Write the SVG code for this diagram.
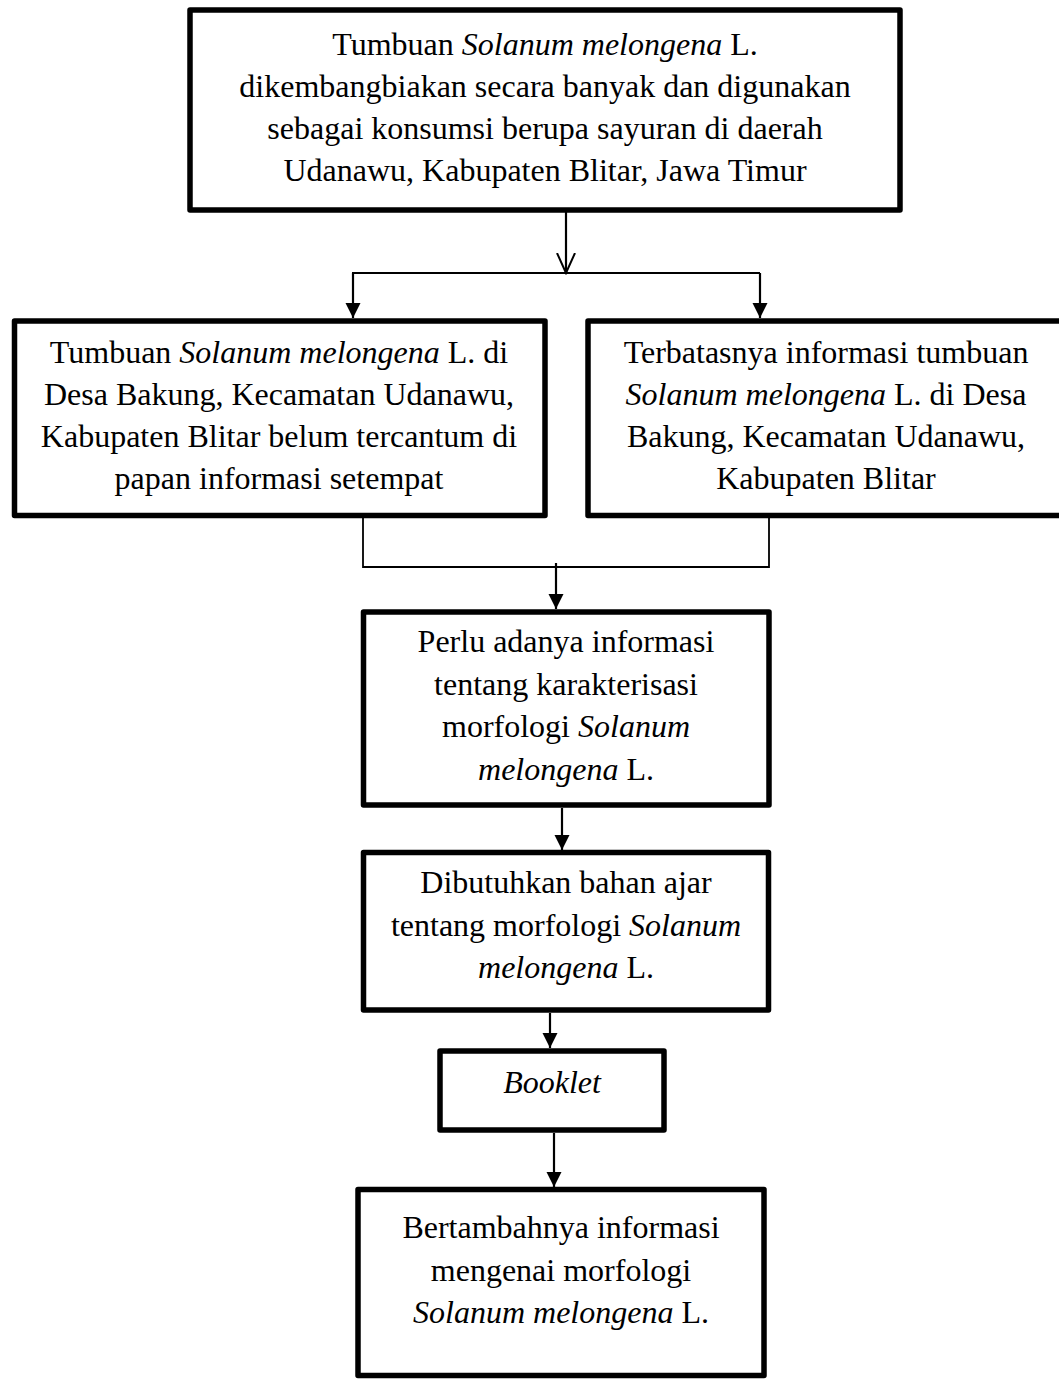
<svg xmlns="http://www.w3.org/2000/svg" width="1059" height="1380" viewBox="0 0 1059 1380">
<style>
.box{fill:#fff;stroke:#000;stroke-width:5.5;stroke-linejoin:round}
.t{font-family:"Liberation Serif","Times New Roman",serif;font-size:32px;fill:#000;text-anchor:middle}
.i{font-style:italic}
.c{stroke:#000;stroke-width:2.2;fill:none}
.thin{stroke:#000;stroke-width:1.8;fill:none}
</style>
<defs>
<marker id="ah" markerUnits="userSpaceOnUse" markerWidth="16" markerHeight="16" viewBox="0 0 16 16" refX="15" refY="8" orient="auto">
<path d="M0,0.5 L15,8 L0,15.5 Z" fill="#000"/>
</marker>
<marker id="open" markerUnits="userSpaceOnUse" markerWidth="22" markerHeight="22" viewBox="0 0 22 22" refX="20" refY="11" orient="auto">
<path d="M0,2 L20,11 L0,20" fill="none" stroke="#000" stroke-width="2"/>
</marker>
</defs>
<rect width="1059" height="1380" fill="#fff"/>
<g id="connectors">
<line class="c" x1="566" y1="212" x2="566" y2="273" marker-end="url(#open)"/>
<line class="c" x1="352" y1="273" x2="760" y2="273"/>
<line class="c" x1="353" y1="273" x2="353" y2="318" marker-end="url(#ah)"/>
<line class="c" x1="760" y1="273" x2="760" y2="318" marker-end="url(#ah)"/>
<polyline class="thin" points="363,518 363,567 769,567 769,518"/>
<line class="c" x1="556" y1="563" x2="556" y2="609" marker-end="url(#ah)"/>
<line class="c" x1="562" y1="808" x2="562" y2="850" marker-end="url(#ah)"/>
<line class="c" x1="550" y1="1013" x2="550" y2="1048" marker-end="url(#ah)"/>
<line class="c" x1="554" y1="1133" x2="554" y2="1187" marker-end="url(#ah)"/>
</g>
<g id="n1">
<rect class="box" x="190" y="10" width="710" height="200"/>
<text class="t" x="545" y="55">Tumbuan <tspan class="i">Solanum melongena</tspan> L.</text>
<text class="t" x="545" y="97">dikembangbiakan secara banyak dan digunakan</text>
<text class="t" x="545" y="139">sebagai konsumsi berupa sayuran di daerah</text>
<text class="t" x="545" y="181">Udanawu, Kabupaten Blitar, Jawa Timur</text>
</g>
<g id="n2">
<rect class="box" x="14.5" y="321" width="530.5" height="194.5"/>
<text class="t" x="279" y="363">Tumbuan <tspan class="i">Solanum melongena</tspan> L. di</text>
<text class="t" x="279" y="405">Desa Bakung, Kecamatan Udanawu,</text>
<text class="t" x="279" y="447">Kabupaten Blitar belum tercantum di</text>
<text class="t" x="279" y="489">papan informasi setempat</text>
</g>
<g id="n3">
<rect class="box" x="588" y="321" width="480" height="194.5"/>
<text class="t" x="826" y="363">Terbatasnya informasi tumbuan</text>
<text class="t" x="826" y="405"><tspan class="i">Solanum melongena</tspan> L. di Desa</text>
<text class="t" x="826" y="447">Bakung, Kecamatan Udanawu,</text>
<text class="t" x="826" y="489">Kabupaten Blitar</text>
</g>
<g id="n4">
<rect class="box" x="363.5" y="612" width="405.5" height="193"/>
<text class="t" x="566" y="652">Perlu adanya informasi</text>
<text class="t" x="566" y="694.5">tentang karakterisasi</text>
<text class="t" x="566" y="737">morfologi <tspan class="i">Solanum</tspan></text>
<text class="t" x="566" y="779.5"><tspan class="i">melongena</tspan> L.</text>
</g>
<g id="n5">
<rect class="box" x="363.5" y="852.5" width="405" height="157.5"/>
<text class="t" x="566" y="893">Dibutuhkan bahan ajar</text>
<text class="t" x="566" y="936">tentang morfologi <tspan class="i">Solanum</tspan></text>
<text class="t" x="566" y="978"><tspan class="i">melongena</tspan> L.</text>
</g>
<g id="n6">
<rect class="box" x="440" y="1051" width="224" height="79"/>
<text class="t i" x="552" y="1093">Booklet</text>
</g>
<g id="n7">
<rect class="box" x="358" y="1189.5" width="406" height="186"/>
<text class="t" x="561" y="1238">Bertambahnya informasi</text>
<text class="t" x="561" y="1280.5">mengenai morfologi</text>
<text class="t" x="561" y="1323"><tspan class="i">Solanum melongena</tspan> L.</text>
</g>
</svg>
